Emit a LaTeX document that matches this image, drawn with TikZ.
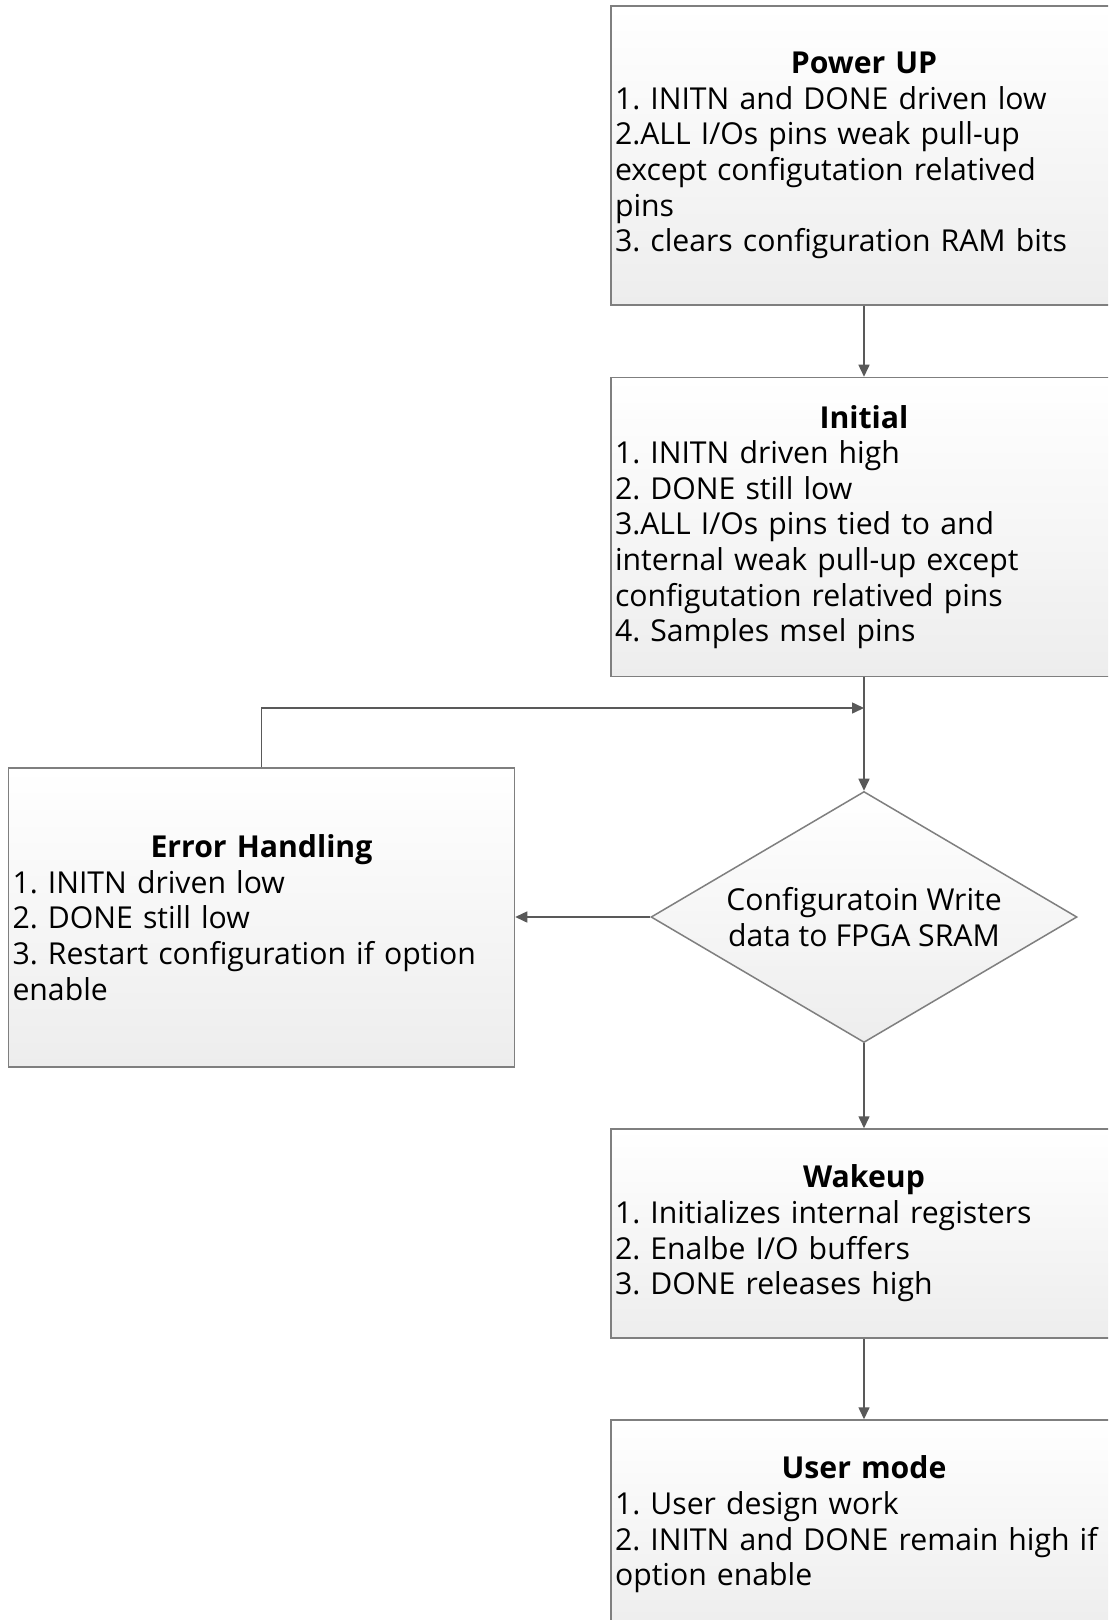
\documentclass[tikz,border=0pt]{standalone}
\usepackage{fontspec}
\setmainfont{Open Sans}
\frenchspacing
\usetikzlibrary{arrows.meta, shapes.geometric}
\definecolor{cline}{HTML}{595959}
\definecolor{cedge}{HTML}{7F7F7F}
\definecolor{cfill}{HTML}{EDEDED}
\tikzset{
  every picture/.style={line width=0.75pt},
  state/.style={draw=cedge, top color=white, bottom color=cfill, minimum width=253pt,
    minimum height=#1, text width=249pt, inner sep=2pt, align=left,
    font=\fontsize{15.1}{17.8}\selectfont},
  state/.default=149.5pt,
  test/.style={diamond, draw=cedge, top color=white, bottom color=cfill, aspect=1.7,
    inner sep=0pt, minimum width=213pt, minimum height=125.5pt, align=center,
    font=\fontsize{15.1}{17.8}\selectfont},
  arrow/.style={-{Triangle[length=6pt, width=5.5pt]}, draw=cline},
}
\newcommand{\head}[1]{\centerline{\bfseries #1}}

\begin{document}
\begin{tikzpicture}[x=1pt, y=1pt]
  \clip (0,0) rectangle (554,-810);
  \fill[white] (0,0) rectangle (554,-810);
  % boxes of the start-up sequence
  \node[state] (power) at (432,-77.75) {\head{Power UP}
    1. INITN and DONE driven low\\
    2.ALL I/Os pins weak pull-up\\
    except configutation relatived\\
    pins\\
    3. clears configuration RAM bits};
  \node[state] (init) at (432,-263.5) {\head{Initial}
    1. INITN driven high\\
    2. DONE still low\\
    3.ALL I/Os pins tied to and\\
    internal weak pull-up except\\
    configutation relatived pins\\
    4. Samples msel pins};
  \node[test] (write) at (432,-458.5) {Configuratoin Write\\data to FPGA SRAM};
  \node[state] (error) at (130.75,-458.75) {\head{Error Handling}
    1. INITN driven low\\
    2. DONE still low\\
    3. Restart configuration if option\\
    enable};
  \node[state=104.5pt] (wake) at (432,-616.75) {\head{Wakeup}
    1. Initializes internal registers\\
    2. Enalbe I/O buffers\\
    3. DONE releases high};
  \node[state=104.5pt] (user) at (432,-762.25) {\head{User mode}
    1. User design work\\
    2. INITN and DONE remain high if\\
    option enable};
  % connectors
  \coordinate (join) at (432,-354);
  \draw[arrow] (power) -- (init);
  \draw[arrow] (init) -- (write);
  \draw[arrow] (error.north) |- (join);
  \draw[arrow] (write.west) -- (write.west -| error.east);
  \draw[arrow] (write) -- (wake);
  \draw[arrow] (wake) -- (user);
\end{tikzpicture}
\end{document}
